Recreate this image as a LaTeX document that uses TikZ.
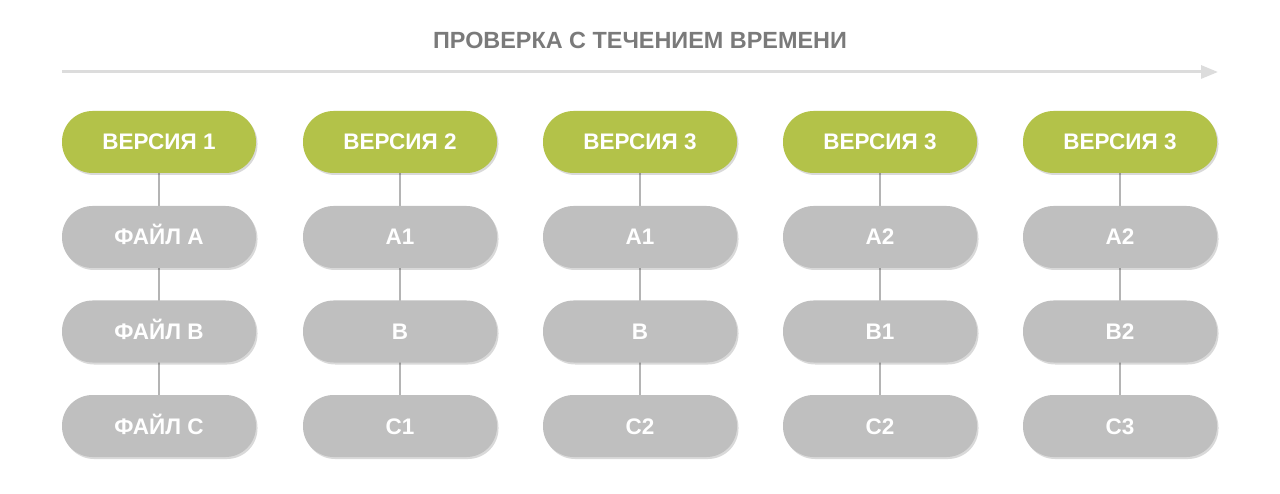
\documentclass[tikz,border=0pt]{standalone}
\usepackage{fontspec}
\setmainfont{Liberation Sans}
\usetikzlibrary{shadows,arrows.meta}
\definecolor{vgreen}{HTML}{B3C249}
\definecolor{fgray}{HTML}{BFBFBF}
\definecolor{tgray}{HTML}{7A7A7A}
\definecolor{agray}{HTML}{DCDCDC}
\definecolor{lgray}{HTML}{B4B4B4}
\begin{document}
\begin{tikzpicture}[x=1pt,y=-1pt,
  pill/.style={rectangle, rounded corners=30.5pt, minimum width=194pt, minimum height=62pt,
    inner sep=0pt, text height=16pt, text depth=0pt, text=white, font=\bfseries\fontsize{22.5}{23}\selectfont,
    drop shadow={shadow xshift=1.5pt, shadow yshift=-2pt, opacity=0.15, fill=black}},
  vpill/.style={pill, fill=vgreen},
  fpill/.style={pill, fill=fgray},
  link/.style={draw=lgray, line width=1.5pt},
  timeline/.style={draw=agray, line width=3pt, -{Triangle[length=17pt,width=13pt]}},
  title/.style={text=tgray, font=\bfseries\fontsize{23.4}{24}\selectfont, text height=17pt, text depth=0pt, inner sep=0pt}]
\useasboundingbox (0,0) rectangle (1280,494);
\node[title] (t) at (640,40) {ПРОВЕРКА С ТЕЧЕНИЕМ ВРЕМЕНИ};
\coordinate (as) at (62,72);
\coordinate (ae) at (1218,72);
\draw[timeline] (as) -- (ae);
\foreach \i/\x/\v/\a/\b/\c in {1/159/ВЕРСИЯ 1/ФАЙЛ А/ФАЙЛ В/ФАЙЛ С,
  2/400/ВЕРСИЯ 2/А1/В/С1,
  3/640/ВЕРСИЯ 3/А1/В/С2,
  4/880/ВЕРСИЯ 3/А2/В1/С2,
  5/1120/ВЕРСИЯ 3/А2/В2/С3}{
  \draw[link] (\x,173) -- (\x,396);
  \node[vpill] (v\i) at (\x,142) {\v};
  \node[fpill] (a\i) at (\x,237) {\a};
  \node[fpill] (b\i) at (\x,331.5) {\b};
  \node[fpill] (c\i) at (\x,426) {\c};
}
\end{tikzpicture}
\end{document}
